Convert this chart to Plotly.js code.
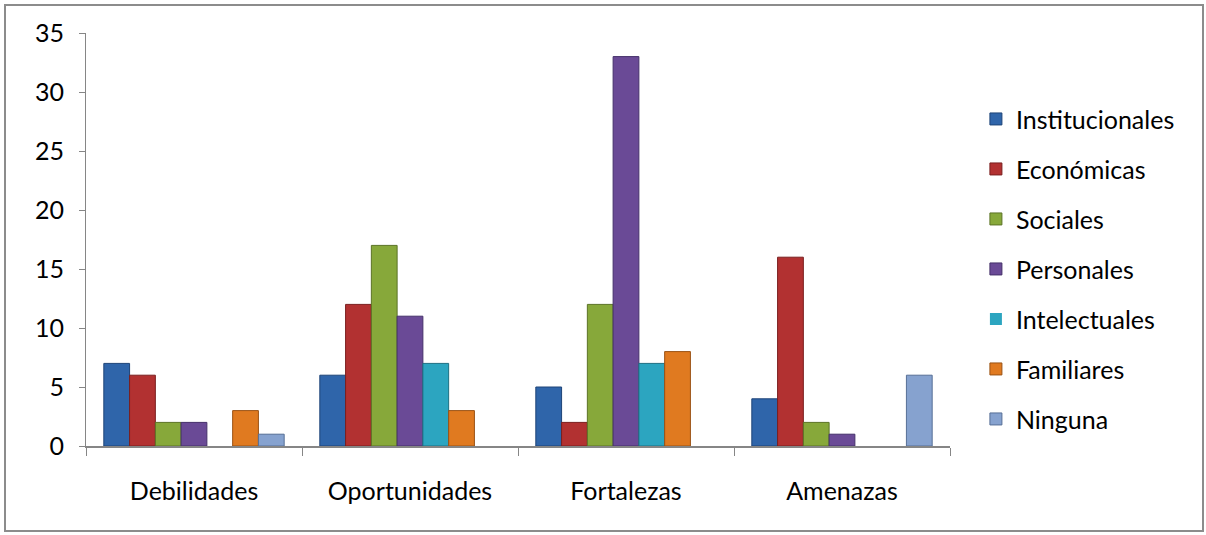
<!DOCTYPE html>
<html>
<head>
<meta charset="utf-8">
<script src="https://cdn.plot.ly/plotly-3.0.1.min.js"></script>
<style>
html,body{margin:0;padding:0;background:#fff;}
#frame{position:absolute;left:0;top:0;width:1206px;height:535px;}
#border{position:absolute;left:4px;top:4px;width:1196px;height:524px;border:2px solid #8c8c8c;pointer-events:none;}
</style>
</head>
<body>
<div id="frame"></div>
<div id="border"></div>
<script>
const categories = ["Debilidades", "Oportunidades", "Fortalezas", "Amenazas"];
const seriesNames = ["Institucionales", "Económicas", "Sociales", "Personales", "Intelectuales", "Familiares", "Ninguna"];
const institucionales = [7, 6, 5, 4];
const economicas      = [6, 12, 2, 16];
const sociales        = [2, 17, 12, 2];
const personales      = [2, 11, 33, 1];
const intelectuales   = [0, 7, 7, 0];
const familiares      = [3, 3, 8, 0];
const ninguna         = [1, 0, 0, 6];
const yTicks = [0, 5, 10, 15, 20, 25, 30, 35];

const seriesValues = [institucionales, economicas, sociales, personales, intelectuales, familiares, ninguna];
const colors = ["#2F65AA", "#B23131", "#87A83A", "#6A4A96", "#2CA5C0", "#E07A20", "#86A2CF"];
const lineColors = ["#1E4478", "#7A1F1F", "#5B7326", "#45306A", "#1C6F82", "#9A5214", "#566F96"];

const traces = seriesNames.map((name, i) => ({
  type: "bar",
  name: name,
  x: categories,
  y: seriesValues[i],
  legendgroup: "g" + i,
  marker: {
    color: colors[i],
    line: {color: lineColors[i], width: seriesValues[i].map(v => v ? 1 : 0)}
  },
  hoverinfo: "x+y+name"
}));

const FS = 25;
const layout = {
  width: 1206,
  height: 535,
  margin: {l: 86, r: 256, t: 33, b: 89},
  paper_bgcolor: "rgba(0,0,0,0)",
  plot_bgcolor: "rgba(0,0,0,0)",
  font: {family: "Lato, 'Open Sans', sans-serif", size: FS, color: "#000"},
  barmode: "group",
  bargap: 0.165,
  bargroupgap: 0,
  showlegend: true,
  legend: {
    x: 1.03, xanchor: "left",
    y: 0.847, yanchor: "top",
    font: {size: FS, color: "#000"},
    tracegroupgap: 14.5,
    itemwidth: 30,
    bgcolor: "rgba(0,0,0,0)"
  },
  xaxis: {
    type: "category",
    showline: true,
    linecolor: "#868686",
    linewidth: 2,
    ticks: "outside",
    tickson: "boundaries",
    ticklen: 8,
    tickcolor: "#868686",
    tickwidth: 1,
    ticklabelstandoff: 22,
    showgrid: false,
    zeroline: false,
    tickfont: {size: FS}
  },
  yaxis: {
    range: [0, 35],
    tickvals: yTicks,
    ticktext: yTicks.map(String),
    showline: true,
    linecolor: "#868686",
    linewidth: 1,
    ticks: "outside",
    ticklen: 6,
    tickcolor: "#868686",
    ticklabelstandoff: 10,
    showgrid: false,
    zeroline: false,
    tickfont: {size: FS}
  }
};

Plotly.newPlot("frame", traces, layout, {displayModeBar: false, staticPlot: true});
</script>
</body>
</html>
